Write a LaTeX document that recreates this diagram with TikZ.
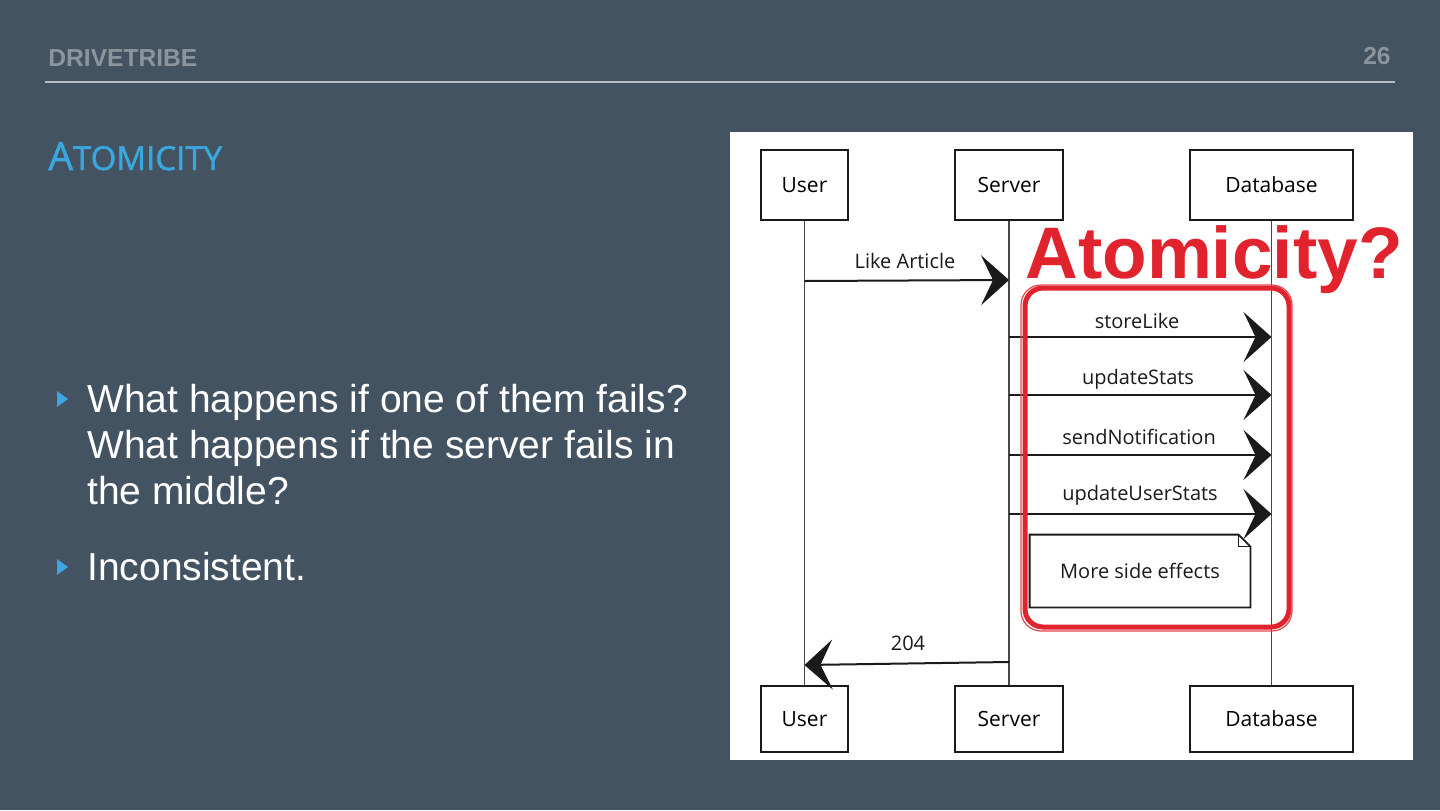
\documentclass[tikz,border=0pt]{standalone}
\usepackage{fontspec}
\setmainfont{Liberation Sans}
\newfontfamily\handfont{Open Sans}
\newfontfamily\titlefont[FakeBold=1.3]{Open Sans}
\usetikzlibrary{arrows.meta,calc}
\definecolor{bg}{HTML}{435361}
\definecolor{accent}{HTML}{3AA8DF}
\definecolor{hdrgray}{HTML}{8C959C}
\definecolor{rulegray}{HTML}{B5BCC2}
\definecolor{alarm}{HTML}{E1232D}
\definecolor{ink}{HTML}{1A1A1A}
\begin{document}
\begin{tikzpicture}[x=0.5pt,y=-0.5pt,
  bullettext/.style={anchor=base west, text=white, inner sep=0pt, font=\fontsize{19.5}{23}\selectfont},
  actor/.style={draw=ink, line width=0.9pt, fill=white, inner sep=0pt, font=\handfont\fontsize{10.5}{12}\selectfont},
  lifeline/.style={draw=ink!80, line width=0.6pt},
  msg/.style={draw=ink, line width=1pt, -{Stealth[length=14pt,width=25pt,inset=6pt]}},
  lbl/.style={inner sep=0pt, font=\handfont\fontsize{10}{12}\selectfont, text=ink},
  notebox/.style={inner sep=0pt, minimum width=110pt, minimum height=36pt, font=\handfont\fontsize{10}{12}\selectfont, text=ink},
  hdr/.style={text=hdrgray, inner sep=0pt, font=\bfseries\fontsize{12.3}{14}\selectfont}
]
\fill[bg] (0,0) rectangle (1440,810);
\useasboundingbox (0,0) rectangle (1440,810);

% header
\node[hdr, anchor=base west] (brand) at (48,66) {DRIVETRIBE};
\node[hdr, anchor=base east] (page) at (1391,64) {26};
\draw[rulegray, line width=0.8pt] (45,82) -- (1395,82);

% title
\node[anchor=base west, text=accent, inner sep=0pt, font=\titlefont] (title) at (48,170) {\fontsize{19.5}{20}\selectfont A\fontsize{16.5}{17}\selectfont TOMICITY};

% bullets
\fill[accent] (57,391) -- (68,399) -- (57,407) -- cycle;
\node[bullettext] (b1a) at (87,412) {What happens if one of them fails?};
\node[bullettext] (b1b) at (87,458) {What happens if the server fails in};
\node[bullettext] (b1c) at (87,504) {the middle?};
\fill[accent] (57,559) -- (68,567) -- (57,575) -- cycle;
\node[bullettext] (b2) at (87,580) {Inconsistent.};

% picture area
\fill[white] (730,132) rectangle (1413,760);

% red question
\node[anchor=base west, text=alarm, inner sep=0pt, font=\bfseries\fontsize{36.5}{40}\selectfont] (q) at (1025,278) {Atomicity?};

% actors
\node[actor, minimum width=43.5pt, minimum height=35pt] (userT) at (804.5,185) {User};
\node[actor, minimum width=54pt, minimum height=35pt] (serverT) at (1009,185) {Server};
\node[actor, minimum width=81.5pt, minimum height=35pt] (dbT) at (1271.5,185) {Database};
\node[actor, minimum width=43.5pt, minimum height=33pt] (userB) at (804.5,719) {User};
\node[actor, minimum width=54pt, minimum height=33pt] (serverB) at (1009,719) {Server};
\node[actor, minimum width=81.5pt, minimum height=33pt] (dbB) at (1271.5,719) {Database};

% lifelines
\draw[lifeline] (userT.south) -- (userB.north);
\draw[lifeline] (serverT.south) -- (serverB.north);
\draw[lifeline] (dbT.south) -- (dbB.north);

% messages
\draw[msg] (userT |- 0,281) -- (serverT |- 0,280);
\node[lbl] (l1) at (905,261) {Like Article};
\draw[msg] (serverT |- 0,337) -- (dbT |- 0,337);
\node[lbl] (l2) at (1137,321) {storeLike};
\draw[msg] (serverT |- 0,395) -- (dbT |- 0,395);
\node[lbl] (l3) at (1138,379) {updateStats};
\draw[msg] (serverT |- 0,455) -- (dbT |- 0,455);
\node[lbl] (l4) at (1139,437) {sendNotification};
\draw[msg] (serverT |- 0,514) -- (dbT |- 0,514);
\node[lbl] (l5) at (1140,495) {updateUserStats};
\draw[msg] (serverT |- 0,662) -- (userT |- 0,665);
\node[lbl] (l6) at (908,643) {204};

% note
\node[notebox] (note) at (1140,571) {More side effects};
\draw[ink, line width=0.9pt] (note.north west) -- ($(note.north east)+(-12,0)$) -- ($(note.north east)+(0,12)$) -- (note.south east) -- (note.south west) -- cycle;
\draw[ink, line width=0.7pt] ($(note.north east)+(-12,0)$) -- ($(note.north east)+(-12,12)$) -- ($(note.north east)+(0,12)$);

% red frame
\draw[alarm, line width=2.5pt, rounded corners=9pt] (1025,288) rectangle (1289,627);
\draw[alarm!85, line width=0.6pt, rounded corners=10pt] (1021,285) rectangle (1292,631);
\end{tikzpicture}
\end{document}
